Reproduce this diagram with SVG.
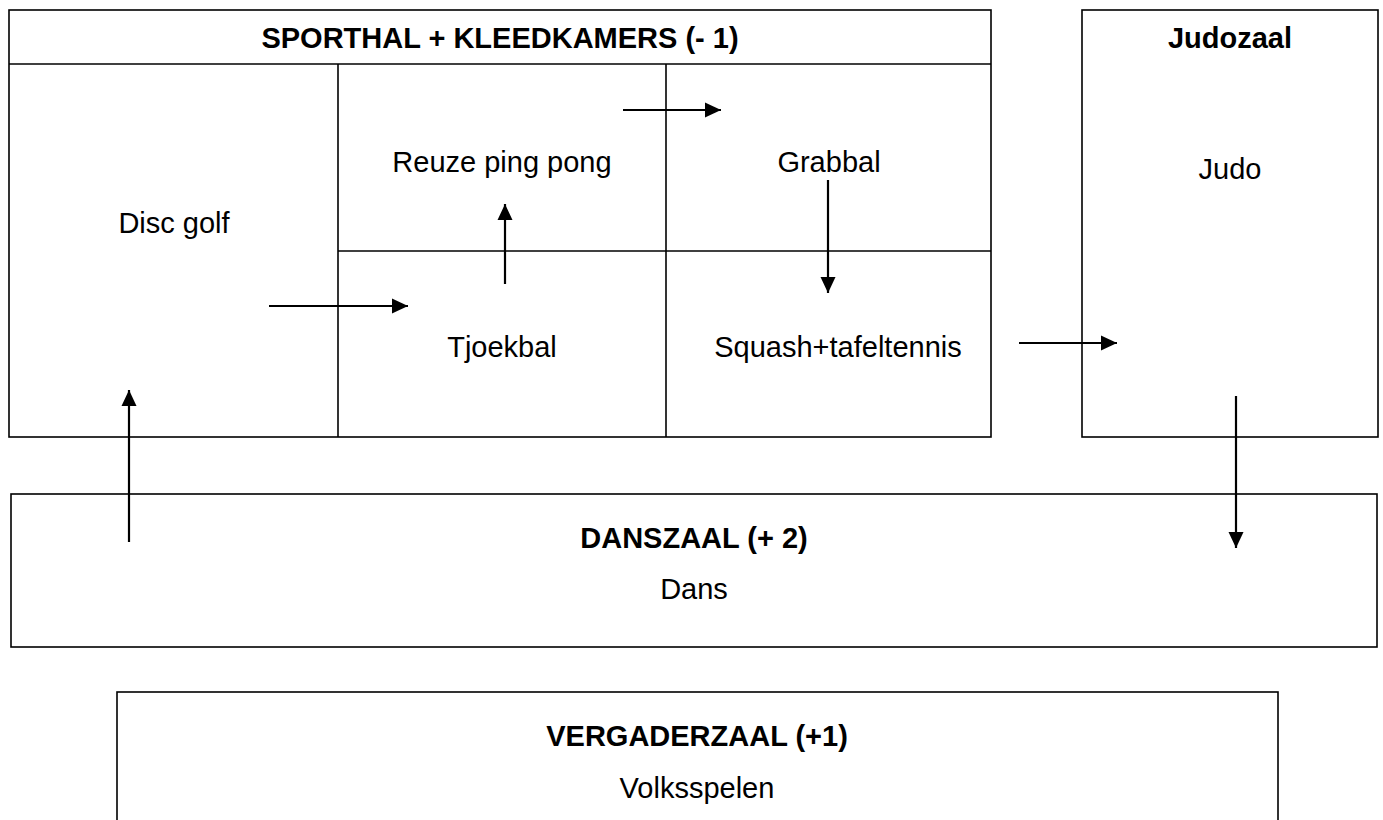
<svg xmlns="http://www.w3.org/2000/svg" width="1383" height="820" viewBox="0 0 1383 820">
<style>
.box{fill:none;stroke:#000;stroke-width:1.6}
.t{font-family:"Liberation Sans",Arial,sans-serif;font-size:29px;fill:#000;text-anchor:middle}
.b{font-weight:bold}
.c{stroke:#000;stroke-width:2.2;fill:none;marker-end:url(#ah)}
</style>
<defs>
<marker id="ah" markerUnits="userSpaceOnUse" markerWidth="16" markerHeight="16" viewBox="0 0 16 16" refX="16" refY="8" orient="auto">
<path d="M0,0.5 L16,8 L0,15.5 Z" fill="#000"/>
</marker>
</defs>
<rect width="1383" height="820" fill="#fff"/>
<g id="sporthal">
<rect class="box" x="9" y="10" width="982" height="427"/>
<line class="box" x1="9" y1="64" x2="991" y2="64"/>
<text class="t b" x="500" y="48">SPORTHAL + KLEEDKAMERS (- 1)</text>
</g>
<g id="discgolf">
<line class="box" x1="338" y1="64" x2="338" y2="437"/>
<text class="t" x="174" y="233">Disc golf</text>
</g>
<g id="reuze">
<line class="box" x1="338" y1="251" x2="991" y2="251"/>
<text class="t" x="502" y="172">Reuze ping pong</text>
</g>
<g id="grabbal">
<line class="box" x1="666" y1="64" x2="666" y2="437"/>
<text class="t" x="829" y="172">Grabbal</text>
</g>
<g id="tjoekbal">
<text class="t" x="502" y="357">Tjoekbal</text>
</g>
<g id="squash">
<text class="t" x="838" y="357">Squash+tafeltennis</text>
</g>
<g id="judozaal">
<rect class="box" x="1082" y="10" width="296" height="427"/>
<text class="t b" x="1230" y="48">Judozaal</text>
<text class="t" x="1230" y="179">Judo</text>
</g>
<g id="danszaal">
<rect class="box" x="11" y="494" width="1366" height="153"/>
<text class="t b" x="694" y="548">DANSZAAL (+ 2)</text>
<text class="t" x="694" y="599">Dans</text>
</g>
<g id="vergaderzaal">
<rect class="box" x="117" y="692" width="1161" height="140"/>
<text class="t b" x="697" y="746">VERGADERZAAL (+1)</text>
<text class="t" x="697" y="798">Volksspelen</text>
</g>
<g id="connectors">
<line class="c" x1="269" y1="306" x2="408" y2="306"/>
<line class="c" x1="505" y1="284" x2="505" y2="204"/>
<line class="c" x1="623" y1="110" x2="721" y2="110"/>
<line class="c" x1="828" y1="180" x2="828" y2="293"/>
<line class="c" x1="1019" y1="343" x2="1117" y2="343"/>
<line class="c" x1="1236" y1="396" x2="1236" y2="548"/>
<line class="c" x1="129" y1="542" x2="129" y2="390"/>
</g>
</svg>
